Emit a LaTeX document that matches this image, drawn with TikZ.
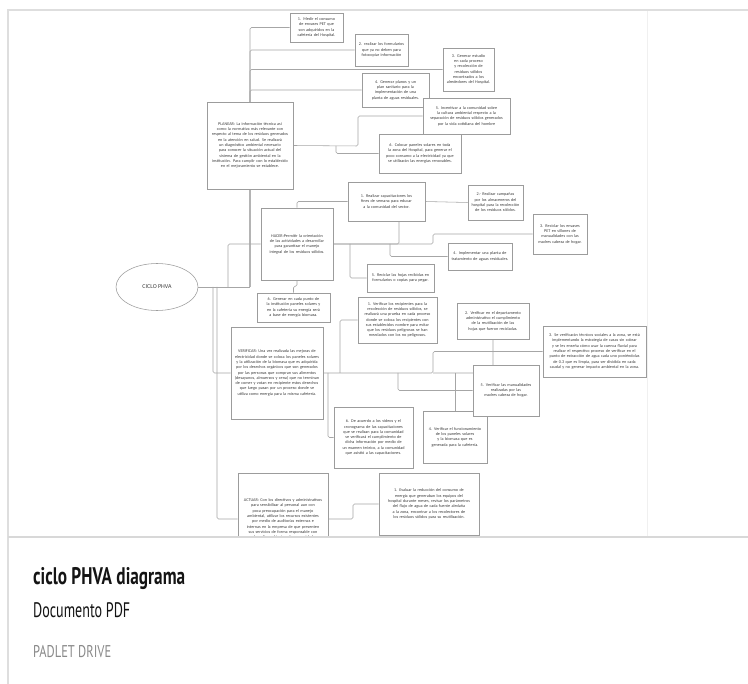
\documentclass[tikz,border=0pt]{standalone}
\usepackage{fontspec}
\usepackage{graphicx}
\setmainfont{Carlito}
\newfontfamily\uifont{PT Sans}
\usetikzlibrary{shapes.geometric,shadows}
\hyphenpenalty=10000
\exhyphenpenalty=10000
\definecolor{lngray}{HTML}{A6A6A6}
\definecolor{bxgray}{HTML}{9C9C9C}
\definecolor{txgray}{HTML}{3E3E3E}
\definecolor{cardgray}{HTML}{DEDEDE}
\definecolor{sepgray}{HTML}{D8D8D8}
\definecolor{pagegray}{HTML}{F0F0F0}
\definecolor{ttlblack}{HTML}{141414}
\definecolor{srcgray}{HTML}{8A8A8A}
\pgfdeclarelayer{bg}
\pgfdeclarelayer{lines}
\pgfsetlayers{bg,lines,main}
\newcommand\mybox[6]{%
  \pgfmathsetmacro\cx{(#2+#4)/2}%
  \pgfmathsetmacro\cy{(#3+#5)/2}%
  \pgfmathsetmacro\ww{#4-#2}%
  \pgfmathsetmacro\hh{#5-#3}%
  \pgfmathsetmacro\tw{#4-#2-7}%
  \node[bx, minimum width=\ww pt, minimum height=\hh pt, text width=\tw pt] (#1) at (\cx,\cy) {#6};}
\begin{document}
\begin{tikzpicture}[x=1pt,y=-1pt,
  bx/.style={draw=bxgray, line width=0.55pt, fill=white, align=center, inner sep=1.5pt,
    font=\fontsize{4.2}{5.3}\selectfont, text=txgray,
    drop shadow={opacity=0.12,shadow xshift=0.5pt,shadow yshift=-0.6pt}},
  ln/.style={draw=lngray, line width=0.55pt, rounded corners=1.5pt}]
\useasboundingbox (0,0) rectangle (748,684);
\begin{pgfonlayer}{bg}
\fill[white] (0,0) rectangle (748,684);
\draw[pagegray, line width=0.6pt] (647,10) -- (647,537);
\end{pgfonlayer}

% ---------- centre ----------
\node[draw=bxgray, line width=0.55pt, fill=white, ellipse, minimum width=82pt, minimum height=47pt,
  font=\fontsize{6}{7}\selectfont, text=txgray] (cphva) at (157,287) {CICLO PHVA};
\coordinate (jP) at (250,287);
\coordinate (jH) at (228,287);
\coordinate (jV) at (213,287);
\coordinate (jA) at (217,287);

% ---------- PLANEAR ----------
\mybox{planear}{207}{102}{293}{189}{PLANEAR: La información técnica así como la normativa más relevante con respecto al tema de los residuos generados en la atención en salud. Se realizará un diagnóstico ambiental necesario para conocer la situación actual del sistema de gestión ambiental en la institución. Para cumplir con lo establecido en el mejoramiento se establece.}
\mybox{b1}{290}{13}{343}{42}{1. Medir el consumo de envases PET que son adquiridos en la cafetería del Hospital.}
\mybox{b2}{355}{34}{408}{66}{2. realizar los formularios que ya no deben para fotocopiar información}
\mybox{b3}{443}{48}{494}{91}{3. Generar estudio en cada proceso y recolección de residuos sólidos encontrados a los alrededores del Hospital.}
\mybox{b4}{362}{73}{429}{107}{4. Generar planos y un plan sanitario para la implementación de una planta de aguas residuales.}
\mybox{b5}{423}{98}{510}{134}{5. Incentivar a la comunidad sobre la cultura ambiental respecto a la separación de residuos sólidos generados por la vida cotidiana del hombre}
\mybox{b6}{379}{134}{461}{173}{6. Colocar paneles solares en toda la zona del Hospital, para generar el poco consumo a la electricidad ya que se utilizarán las energías renovables.}

% ---------- HACER ----------
\mybox{hacer}{261}{208}{333}{280}{HACER:Permitir la orientación de las actividades a desarrollar para garantizar el manejo integral de los residuos sólidos.}
\mybox{h1}{348}{182}{425}{221}{1. Realizar capacitaciones los fines de semana para educar a la comunidad del sector.}
\mybox{h2}{468}{185}{523}{220}{2.- Realizar campañas por los almaceneros del hospital para la recolección de los residuos sólidos.}
\mybox{h3}{533}{214}{587}{254}{3. Reciclar los envases PET en sillones de manualidades con las madres cabeza de hogar.}
\mybox{h4}{448}{243}{512}{270}{4. Implementar una planta de tratamiento de aguas residuales.}
\mybox{h5}{367}{264}{434}{292}{5. Reciclar las hojas recibidas en formularios o copias para pegar.}
\mybox{h6}{257}{293}{330}{322}{6. Generar en cada punto de la institución paneles solares y en la cafetería su energía será a base de energía biomasa.}

% ---------- VERIFICAR ----------
\mybox{verificar}{231}{327}{323}{419}{VERIFICAR: Una vez realizada las mejoras de electricidad donde se coloca los paneles solares y la utilización de la biomasa que es adquirida por los desechos orgánicos que son generados por las personas que compran sus alimentos (desayunos, almuerzos y cena) que no terminan de comer y votan en recipiente estos desechos que luego pasan por un proceso donde se utiliza como energía para la misma cafetería.}
\mybox{v1}{358}{297}{437}{343}{1. Verificar los recipientes para la recolección de residuos sólidos, se realizará una prueba en cada proceso donde se coloca los recipientes con sus establecidos nombre para evitar que los residuos peligrosos se han mezclados con los no peligrosos.}
\mybox{v2}{457}{303}{529}{339}{2. Verificar en el departamento administrativo el cumplimiento de la reutilización de las hojas que fueron recicladas.}
\mybox{v3}{543}{326}{646}{377}{3. Se verificarán técnicos sociales a la zona, se está implementando la estrategia de casas sin cobrar y se les enseña cómo usar la cuenca fluvial para realizar el respectivo proceso de verificar en el punto de extracción de agua cada uno poniéndolas de 0.3 que es limpia, para ser dividida en cada caudal y no generar impacto ambiental en la zona.}
\mybox{v4}{423}{411}{487}{463}{4. Verificar el funcionamiento de los paneles solares y la biomasa que es generada para la cafetería.}
\mybox{v5}{473}{365}{539}{416}{5. Verificar las manualidades realizadas por las madres cabeza de hogar.}
\mybox{v6}{334}{407}{413}{468}{6. De acuerdo a los videos y el cronograma de las capacitaciones que se realizan para la comunidad se verificará el cumplimiento de dicha información por medio de un examen teórico, a la comunidad que asistió a las capacitaciones.}

% ---------- ACTUAR ----------
\mybox{actuar}{238}{473}{328}{565}{ACTUAR: Con los directivos y administrativos para sensibilizar al personal aun con poca preocupación para el manejo ambiental, utilizar los recursos existentes por medio de auditorías externas e internas en la empresa de que presenten sus servicios de forma responsable con el medio ambiente y la comunidad.}
\mybox{a1}{379}{473}{479}{535}{1. Evaluar la reducción del consumo de energía que generaban los equipos del hospital durante meses, revisar los parámetros del flujo de agua de cada fuente aledaña a la zona, encontrar a los recolectores de los residuos sólidos para su reutilización.}

% ---------- connectors ----------
\begin{pgfonlayer}{lines}
\draw[ln] (cphva.east) -- (jP);
\draw[ln] (jP) |- (b1.west);
\draw[ln] (jP) |- (b2.west);
\draw[ln] (jP) |- (b3.west);
\draw[ln] (jP) |- (b4.west);
\coordinate (p5) at (358,146);
\coordinate (p6) at (336,146);
\draw[ln] (planear.east) -- (p5) |- (b5.west);
\draw[ln] (p6) |- (b6.west);

\draw[ln] (jH) |- (hacer.west);
\coordinate (q3) at (433,244);
\coordinate (q4) at (390,244);
\coordinate (q5) at (350,244);
\draw[ln] (hacer.east) -- (q3) |- (h3.west);
\draw[ln] ([xshift=12.5pt]h1.south) |- (hacer.east);
\draw[ln] (h1.west) -| (hacer.north);
\draw[ln] (h1.east) -- (h2.west);
\draw[ln] (q4) |- (h4.west);
\draw[ln] (q5) |- (h5.west);
\draw[ln] (hacer.south) -- ++(0,6) -| (h6.north);

\draw[ln] (jV) |- (verificar.west);
\coordinate (r3) at (433,373);
\coordinate (r1) at (340,373);
\coordinate (r5) at (398,373);
\coordinate (r4) at (455,373);
\coordinate (r6) at (328,373);
\draw[ln] (verificar.east) -- (r3) |- (v3.west);
\draw[ln] (r1) |- (v1.west);
\draw[ln] (v2.south) |- (r3);
\draw[ln] (r5) |- (v5.west);
\draw[ln] (r4) -- (v4.north);
\draw[ln] (r6) |- (v6.west);

\draw[ln] (jA) |- (actuar.west);
\coordinate (s1) at (353,519);
\draw[ln] (actuar.east) -- (s1) |- (a1.west);
\end{pgfonlayer}

% ---------- card / caption ----------
\fill[white] (8.6,538) rectangle (748,684);
\draw[cardgray, line width=1.2pt] (8,684) -- (8,10) -- (748,10);
\draw[sepgray, line width=2pt] (8,537.5) -- (748,537.5);
\node[anchor=base west, inner sep=0, text=ttlblack] (ttl) at (33,585)
  {\resizebox{152pt}{\height}{\uifont\fontsize{24}{28}\selectfont\bfseries ciclo PHVA diagrama}};
\node[anchor=base west, inner sep=0, text=ttlblack] (doc) at (33,618)
  {\resizebox{97pt}{\height}{\uifont\fontsize{21}{25}\selectfont Documento PDF}};
\node[anchor=base west, inner sep=0, text=srcgray] (src) at (33,658)
  {\resizebox{78pt}{\height}{\uifont\fontsize{17}{20}\selectfont PADLET DRIVE}};
\end{tikzpicture}
\end{document}
